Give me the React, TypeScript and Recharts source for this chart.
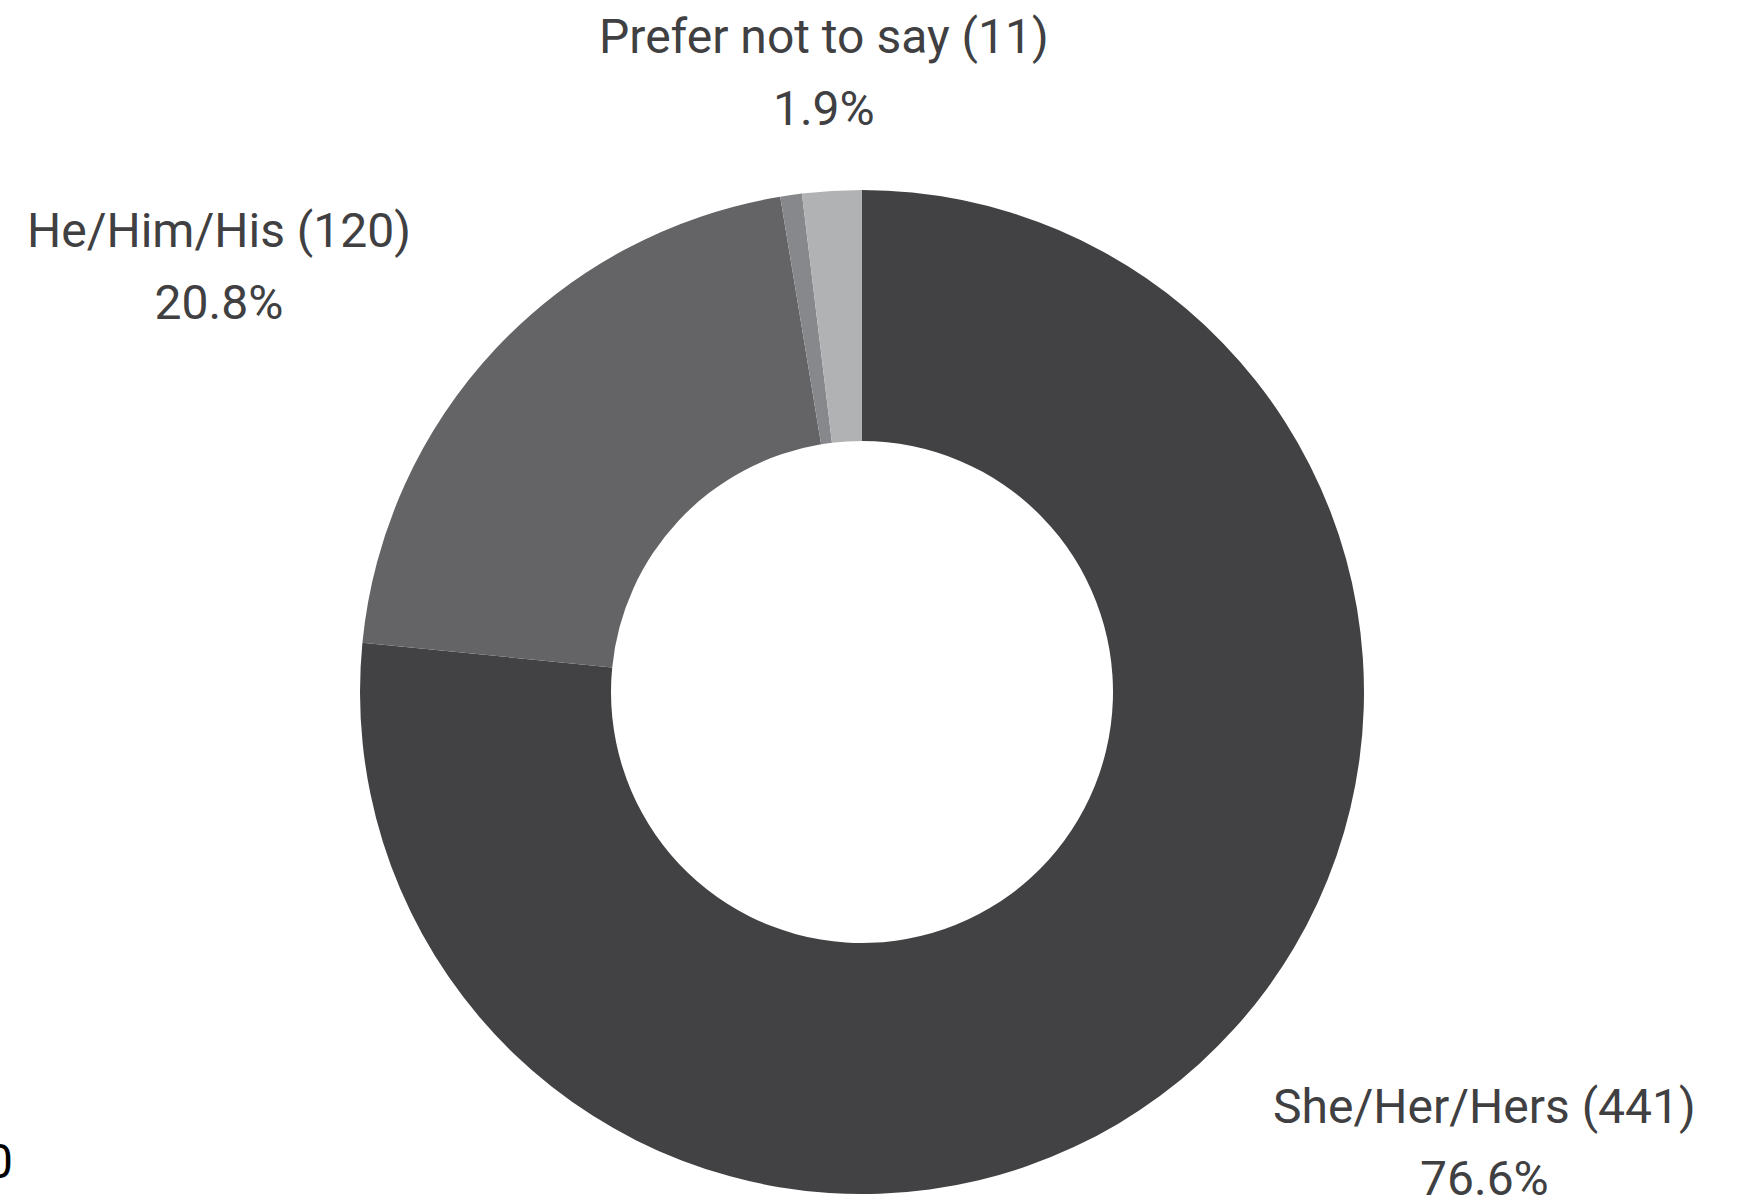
import { PieChart, Pie, Cell } from "recharts";

const names = ["She/Her/Hers", "He/Him/His", "They/Them/Theirs", "Prefer not to say"];
const counts = [441, 120, 4, 11];
const colors = ["#424244", "#646466", "#87888b", "#b1b2b4"];
const showLabel = [true, true, false, true];

const data = names.map((name, i) => ({ name, value: counts[i] }));

const RADIAN = Math.PI / 180;
const FONT = "Roboto, 'Noto Sans', sans-serif";
const TEXT_COLOR = "#404042";

const renderLabel = (props: any) => {
  const { cx, cy, midAngle, percent, index, name, value } = props;
  if (!showLabel[index]) return null;
  // labels sit on an ellipse around the donut
  const x = cx + 16 + 903 * Math.cos(-midAngle * RADIAN);
  const y = cy - 5 + 615 * Math.sin(-midAngle * RADIAN);
  return (
    <g>
      <text x={x} y={y - 20} textAnchor="middle" fill={TEXT_COLOR} fontSize={48} fontFamily={FONT}>
        {`${name} (${value})`}
      </text>
      <text x={x} y={y + 52} textAnchor="middle" fill={TEXT_COLOR} fontSize={48} fontFamily={FONT}>
        {`${(percent * 100).toFixed(1)}%`}
      </text>
    </g>
  );
};

export default function App() {
  return (
    <div style={{ position: "absolute", left: 0, top: 0, width: 1740, height: 1204, background: "#fff", overflow: "hidden" }}>
      <PieChart width={1740} height={1204}>
        <Pie
          data={data}
          dataKey="value"
          nameKey="name"
          cx={857}
          cy={687}
          innerRadius={251}
          outerRadius={502}
          startAngle={90}
          endAngle={-270}
          stroke="none"
          label={renderLabel}
          labelLine={false}
          isAnimationActive={false}
        >
          {data.map((d, i) => (
            <Cell key={d.name} fill={colors[i]} />
          ))}
        </Pie>
      </PieChart>
      <svg width={40} height={60} style={{ position: "absolute", left: 0, top: 1128 }}>
        <text x={-14} y={50} fill="#000" fontSize={48} fontFamily={FONT}>0</text>
      </svg>
    </div>
  );
}
